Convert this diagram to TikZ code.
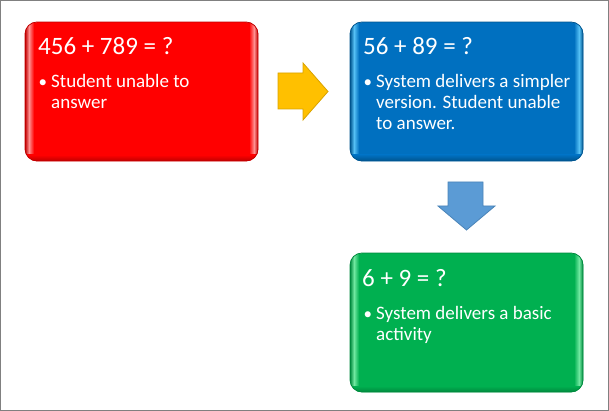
\documentclass[tikz,border=0pt]{standalone}
\usepackage{fontspec}
\setmainfont{Carlito}
\definecolor{rbase}{HTML}{FF0000}
\definecolor{rlight}{HTML}{FF9090}
\definecolor{rdark}{HTML}{C00000}
\definecolor{bbase}{HTML}{0070C0}
\definecolor{blight}{HTML}{55C0F5}
\definecolor{bdark}{HTML}{00558F}
\definecolor{gbase}{HTML}{00B050}
\definecolor{glight}{HTML}{70E8A0}
\definecolor{gdark}{HTML}{008A3E}
\definecolor{yarrow}{HTML}{FFC000}
\definecolor{yarrowd}{HTML}{D9A300}
\definecolor{barrow}{HTML}{5B9BD5}
\definecolor{barrowd}{HTML}{4A84B8}
\definecolor{frame}{HTML}{808080}
\newcommand\mybox[6]{%
  \node[minimum width=233pt, minimum height=139pt, anchor=north west, inner sep=0pt,
        rounded corners=12pt, fill=#4] (#1) at (#2,#3) {};
  \begin{scope}
    \clip[rounded corners=12pt] (#2,#3) rectangle ++(233,139);
    \shade[left color=#6, right color=#5] (#2,#3) rectangle ++(4,139);
    \shade[left color=#5, right color=#4] (#2+4,#3) rectangle ++(5,139);
    \shade[left color=#4, right color=#5] (#2+224,#3) rectangle ++(5,139);
    \shade[left color=#5, right color=#6] (#2+229,#3) rectangle ++(4,139);
    \shade[top color=#4, bottom color=#6] (#2,#3+133) rectangle ++(233,6);
  \end{scope}
  \draw[rounded corners=12pt, draw=#6, line width=0.8pt] (#2,#3) rectangle ++(233,139);
}
\begin{document}
\begin{tikzpicture}[x=1pt,y=-1pt,
  title/.style={anchor=base west, text=white, font=\fontsize{25}{30}\selectfont, inner sep=0pt},
  body/.style={anchor=base west, text=white, font=\fontsize{19}{22}\selectfont, inner sep=0pt},
  bullet/.style={anchor=base west, text=white, font=\fontsize{17}{22}\selectfont, inner sep=0pt},
  blockarrow/.style={line width=0.8pt, line join=miter}]
\useasboundingbox (0,0) rectangle (609,411);
\draw[frame, line width=1pt] (0.5,0.5) rectangle (608.5,410.5);

% red box
\mybox{red}{25}{22}{rbase}{rlight}{rdark}
\node[title] (rt) at (38,55) {456 + 789 = ?};
\node[bullet] (rb) at (38.5,88) {•};
\node[body] (r1) at (51,88) {Student unable to};
\node[body] (r2) at (51,109) {answer};

% blue box
\mybox{blue}{350}{22}{bbase}{blight}{bdark}
\node[title] (bt) at (363,55) {56 + 89 = ?};
\node[bullet] (bb) at (363.5,88) {•};
\node[body] (b1) at (376,88) {System delivers a simpler};
\node[body] (b2) at (376,109) {version. Student unable};
\node[body] (b3) at (376,130) {to answer.};

% green box
\mybox{green}{350}{253}{gbase}{glight}{gdark}
\node[title] (gt) at (362,286) {6 + 9 = ?};
\node[bullet] (gb) at (363.5,319) {•};
\node[body] (g1) at (376,319) {System delivers a basic};
\node[body] (g2) at (376,340) {activity};

% arrows
\draw[blockarrow, fill=yarrow, draw=yarrowd]
  (278,73) -- (303,73) -- (303,63) -- (328,91.5) -- (303,120) -- (303,109) -- (278,109) -- cycle;
\draw[blockarrow, fill=barrow, draw=barrowd]
  (448,182) -- (483,182) -- (483,206) -- (495,206) -- (466.5,230) -- (438,206) -- (448,206) -- cycle;
\end{tikzpicture}
\end{document}
